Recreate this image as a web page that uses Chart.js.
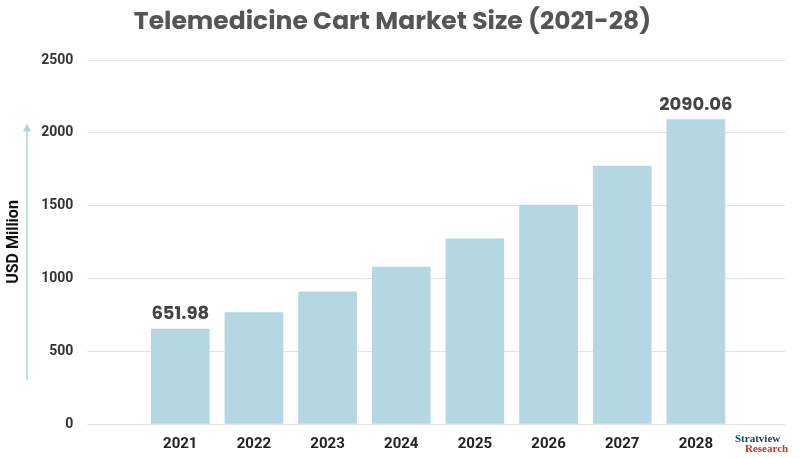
<!DOCTYPE html>
<html>
<head>
<meta charset="utf-8">
<script src="https://cdn.jsdelivr.net/npm/chart.js@4"></script>
<style>
  body { margin: 0; background: #fff; }
  #wrap { width: 800px; height: 458px; position: relative; }
</style>
</head>
<body>
<div id="wrap"><canvas id="chart" width="800" height="458"></canvas></div>
<script>
const years = ["2021", "2022", "2023", "2024", "2025", "2026", "2027", "2028"];
const marketSize = [651.98, 765, 907, 1078, 1271, 1504, 1772, 2090.06];
const labelled = [0, 7];
const yTicks = [0, 500, 1000, 1500, 2000, 2500];

// draws the value labels, the axis arrow and the logo text
const extras = {
  id: "extras",
  afterDatasetsDraw(chart) {
    const ctx = chart.ctx;
    const meta = chart.getDatasetMeta(0);
    ctx.save();
    ctx.fillStyle = "#444";
    ctx.font = "bold 18px Poppins, Roboto, sans-serif";
    ctx.textAlign = "center";
    labelled.forEach(i => {
      const bar = meta.data[i];
      ctx.fillText(marketSize[i].toFixed(2), bar.x, bar.y - 10);
    });
    const y = chart.scales.y;
    ctx.strokeStyle = "#a9d3e0";
    ctx.fillStyle = "#a9d3e0";
    ctx.lineWidth = 1.5;
    ctx.beginPath();
    ctx.moveTo(27, y.getPixelForValue(300));
    ctx.lineTo(27, y.getPixelForValue(2050));
    ctx.stroke();
    ctx.beginPath();
    ctx.moveTo(23, y.getPixelForValue(2050) + 6);
    ctx.lineTo(27, y.getPixelForValue(2050) - 2);
    ctx.lineTo(31, y.getPixelForValue(2050) + 6);
    ctx.fill();
    ctx.textAlign = "left";
    ctx.fillStyle = "#1f3c73";
    ctx.font = "bold 11px 'Liberation Serif', serif";
    ctx.fillText("Stratview", 735, 442);
    ctx.fillStyle = "#c0392b";
    ctx.fillText("Research", 745, 452);
    ctx.restore();
  }
};

new Chart(document.getElementById("chart"), {
  type: "bar",
  data: {
    datasets: [{
      data: marketSize.map((v, i) => ({ x: i + 1, y: v })),
      backgroundColor: "#b4d7e3",
      barThickness: 58
    }]
  },
  options: {
    responsive: false,
    animation: false,
    layout: { padding: { top: 0, right: 15, bottom: 2, left: 0 } },
    plugins: {
      legend: { display: false },
      tooltip: { enabled: false },
      title: {
        display: true,
        text: "Telemedicine Cart Market Size (2021-28)",
        color: "#555",
        font: { size: 25, weight: "bold", family: "Poppins, Roboto, sans-serif" },
        padding: { top: 8, bottom: 22 }
      }
    },
    scales: {
      x: {
        type: "linear",
        offset: false,
        min: -0.153, max: 9.21,
        afterBuildTicks: axis => { axis.ticks = years.map((_, i) => ({ value: i + 1 })); },
        grid: { display: false },
        border: { display: false },
        ticks: {
          color: "#222",
          font: { size: 15, weight: "bold", family: "Roboto, sans-serif" },
          callback: v => years[v - 1]
        }
      },
      y: {
        min: 0, max: 2500,
        afterBuildTicks: axis => { axis.ticks = yTicks.map(v => ({ value: v })); },
        grid: { color: "#e3e3e3" },
        border: { display: false },
        ticks: {
          color: "#333", padding: 14,
          font: { size: 14, weight: "bold", family: "Roboto, sans-serif" },
          callback: v => String(v)
        },
        title: {
          display: true,
          text: "USD Million",
          color: "#111",
          font: { size: 16, weight: "bold", family: "Roboto, sans-serif" }
        }
      }
    }
  },
  plugins: [extras]
});
</script>
</body>
</html>
